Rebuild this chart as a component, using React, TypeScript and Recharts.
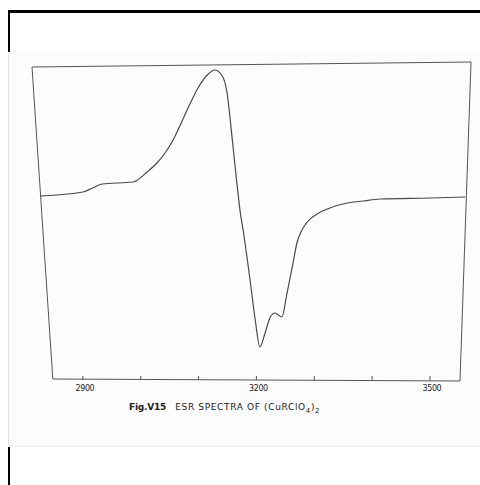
import { LineChart, Line, XAxis, YAxis, ReferenceLine } from "recharts";

// magnetic field (gauss) and first-derivative ESR signal (arbitrary units)
const FIELD = [
  2827, 2900, 2917, 2933, 2987, 3011, 3028, 3042, 3056, 3070, 3085, 3100, 3115, 3128, 3140, 3149, 3158, 3166,
  3172, 3177, 3189, 3198, 3206, 3215, 3224, 3232, 3244, 3253, 3263, 3270, 3277, 3288, 3305, 3327, 3357, 3384, 3414,
  3500, 3561,
];
const SIGNAL = [
  0, 4, 8, 12, 14, 24, 33, 43, 56, 73, 92, 109, 121, 126, 121, 104, 58, 14, -16, -34, -84, -124, -151, -137,
  -121, -117, -121, -97, -68, -47, -36, -26, -18, -12, -7, -5, -3, -2, -1,
];
const TICKS = [2900, 3000, 3100, 3200, 3300, 3400, 3500];
const TICK_LABELS = [2900, 3200, 3500];
// hand-drawn frame of the recorder sheet: [x1, y1, x2, y2]
const FRAME = [
  [2812, 129, 3571, 134],
  [2812, 129, 2848, -183],
  [3571, 134, 3552, -185],
  [2848, -183, 3552, -185],
];

const data = FIELD.map((b, i) => ({ b, v: SIGNAL[i] }));

function Tick({ x, y, payload }: any) {
  const show = TICK_LABELS.includes(payload.value);
  return (
    <g>
      <line x1={x} x2={x} y1={y - 1} y2={y - 5} stroke="#555" strokeWidth={1} />
      {show && (
        <text x={x + 2} y={y + 4} dy="0.71em" textAnchor="middle" fontSize={8} fill="#222"
          fontFamily="DejaVu Sans" letterSpacing={-0.4}>
          {payload.value}
        </text>
      )}
    </g>
  );
}

export default function App() {
  return (
    <div style={{ position: "absolute", left: 0, top: 0, width: 480, height: 485, background: "#fff", overflow: "hidden" }}>
      <div style={{ position: "absolute", left: 8, top: 10, width: 472, height: 3, background: "#000" }} />
      <div style={{ position: "absolute", left: 8, top: 10, width: 2, height: 475, background: "#000" }} />
      <div style={{ position: "absolute", left: 8, top: 52, width: 472, height: 395, background: "#fcfcfc",
        borderLeft: "1px solid #e4e4e4", borderBottom: "2px solid #efefef", boxSizing: "border-box" }} />
      <div style={{ position: "absolute", left: 0, top: 0 }}>
        <LineChart width={480} height={485} data={data} margin={{ top: 62, left: 32, right: 9, bottom: 84 }}>
          <XAxis dataKey="b" type="number" domain={[2812, 3571]} ticks={TICKS} axisLine={false} tickLine={false}
            tickSize={0} tickMargin={0} height={20} tick={<Tick />} interval={0} allowDataOverflow />
          <YAxis type="number" domain={[-185, 134]} hide allowDataOverflow />
          {FRAME.map((f, i) => (
            <ReferenceLine key={i} segment={[{ x: f[0], y: f[1] }, { x: f[2], y: f[3] }]} ifOverflow="visible"
              stroke="#555" strokeWidth={1} />
          ))}
          <Line dataKey="v" type="monotone" stroke="#4a4a4a" strokeWidth={1.2} dot={false} isAnimationActive={false} />
        </LineChart>
      </div>
      <div style={{ position: "absolute", left: 129, top: 402, fontFamily: "DejaVu Sans", fontSize: 9, color: "#222",
        whiteSpace: "pre", letterSpacing: 0.65 }}>
        <span style={{ fontWeight: 600, letterSpacing: -0.2, marginRight: 9 }}>Fig.V15</span>
        {"ESR SPECTRA OF (CuRClO"}
        <sub style={{ fontSize: 7 }}>4</sub>
        {")"}
        <sub style={{ fontSize: 7 }}>2</sub>
      </div>
    </div>
  );
}
